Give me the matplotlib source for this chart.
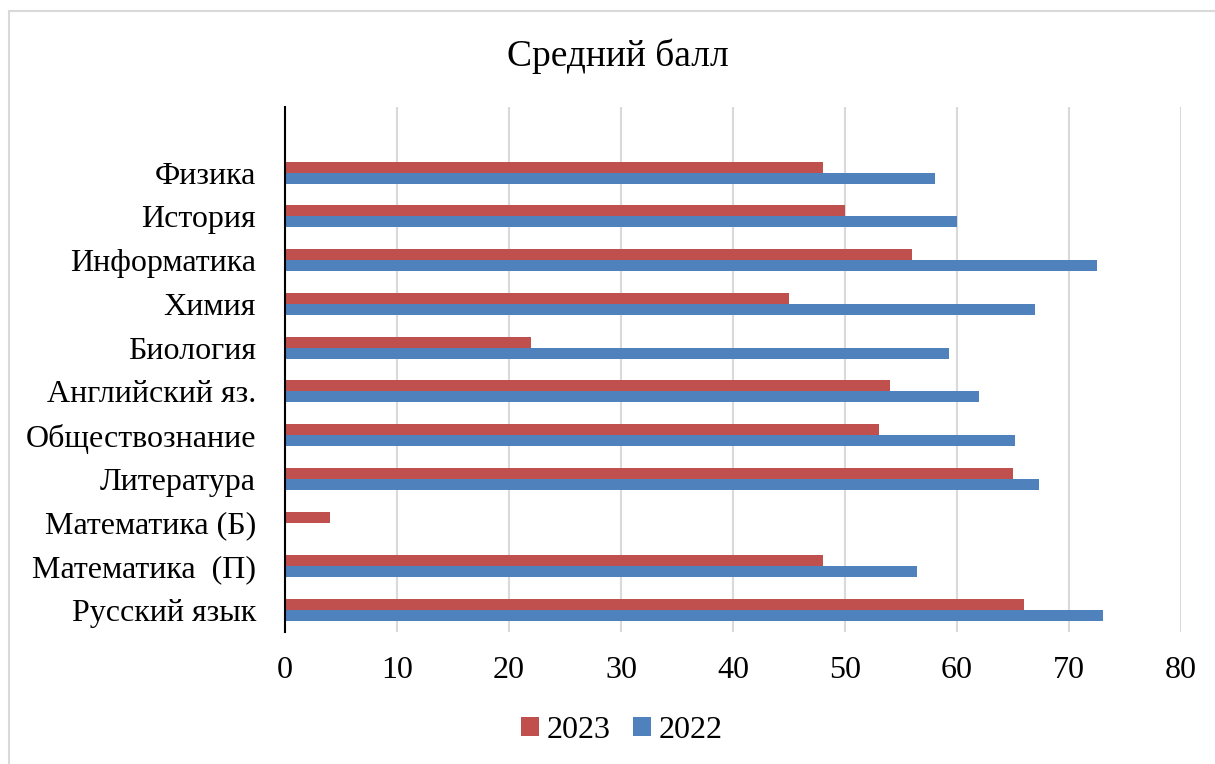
import numpy as np
import matplotlib
matplotlib.use("Agg")
import matplotlib.pyplot as plt
from matplotlib.patches import Rectangle

plt.rcParams['font.family'] = ['Liberation Serif', 'DejaVu Serif']

subjects = ["Русский язык", "Математика  (П)", "Математика (Б)", "Литература",
            "Обществознание", "Английский яз.", "Биология", "Химия",
            "Информатика", "История", "Физика"]
score_2023 = [66, 48, 4, 65, 53, 54, 22, 45, 56, 50, 48]
score_2022 = [73, 56.4, 0, 67.3, 65.2, 62, 59.3, 67, 72.5, 60, 58]

red = "#C0504D"
blue = "#4F81BD"

fig = plt.figure(figsize=(12.15, 7.64), dpi=100)
fig.patches.append(Rectangle((9/1215, -0.01), 1.2, 1 - 11/764 + 0.01,
                             transform=fig.transFigure, fill=False,
                             edgecolor="#d9d9d9", linewidth=1.5))
ax = fig.add_axes([285/1215, 1 - 632/764, (1181 - 285)/1215, (632 - 107)/764])

y = np.arange(len(subjects))
h = 0.25
ax.barh(y + h/2, score_2023, height=h, color=red, label="2023", zorder=3)
ax.barh(y - h/2, score_2022, height=h, color=blue, label="2022", zorder=3)

ax.set_xlim(0, 80)
ax.set_ylim(-0.5, len(subjects) + 0.5)
ax.set_xticks(np.arange(0, 81, 10))
ax.set_yticks(y)
ax.set_yticklabels(subjects)
ax.tick_params(axis="both", length=0, labelsize=23)
ax.tick_params(axis="x", pad=17)
ax.tick_params(axis="y", pad=21)
ax.grid(axis="x", color="#d9d9d9", linewidth=1.5, zorder=0)
for s in ["top", "right", "bottom"]:
    ax.spines[s].set_visible(False)
ax.spines["left"].set_color("black")
ax.spines["left"].set_linewidth(1.5)
ax.spines["left"].set_zorder(4)

fig.text(618/1215, 1 - 56/764, "Средний балл", ha="center", va="center", fontsize=27)
ax.legend(loc="center", bbox_to_anchor=(622/1215, 1 - 730/764),
          bbox_transform=fig.transFigure, ncol=2, frameon=False, fontsize=23,
          handlelength=0.55, handleheight=0.55, handletextpad=0.25, columnspacing=0.7)

fig.savefig("out.png", dpi=100)
